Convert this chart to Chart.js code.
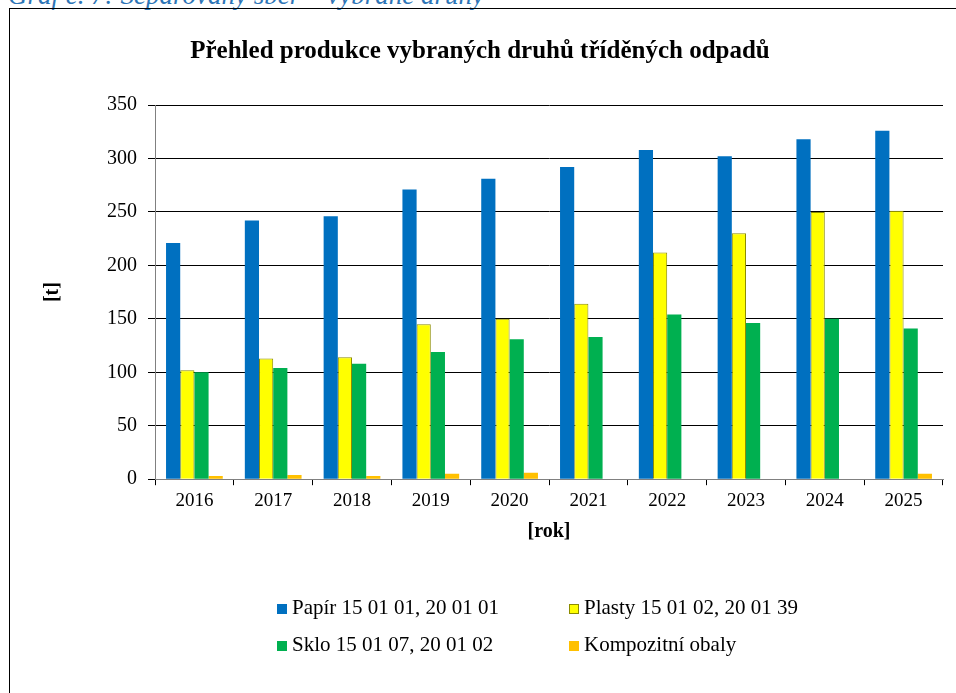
<!DOCTYPE html>
<html>
<head>
<meta charset="utf-8">
<script src="https://cdn.jsdelivr.net/npm/chart.js@4"></script>
<style>
  html, body { margin: 0; padding: 0; background: #fff; }
  body { width: 956px; height: 693px; position: relative; overflow: hidden; font-family: "Liberation Serif", serif; }
  #caption { position: absolute; left: 8px; top: -20px; font-size: 27px; font-style: italic; color: #2E75B6; white-space: nowrap; }
  #frame { position: absolute; left: 9px; top: 8px; width: 960px; height: 700px; border: 1px solid #000; box-sizing: border-box; }
  #wrap { position: absolute; left: 0; top: 0; width: 956px; height: 693px; }
  #legend { position: absolute; left: 277px; top: 595px; width: 600px; font-size: 21px; color: #000; }
  .li { position: absolute; white-space: nowrap; }
  .box { position: absolute; width: 10px; height: 10px; top: 9px; left: 0; box-sizing: border-box; }
  .lt { position: absolute; left: 15px; top: 0; }
</style>
</head>
<body>
<div id="caption">Graf č. 7: Separovaný sběr – vybrané druhy</div>
<div id="frame"></div>
<div id="wrap"><canvas id="c" width="956" height="693"></canvas></div>
<div id="legend"></div>
<script>
const years = ['2016','2017','2018','2019','2020','2021','2022','2023','2024','2025'];
const papir = [221, 242, 246, 271, 281, 292, 308, 302, 318, 326];
const plasty = [102, 113, 114, 145, 150, 164, 212, 230, 250, 251];
const sklo = [100, 104, 108, 119, 131, 133, 154, 146, 150, 141];
const kompozit = [3, 4, 3, 5, 6, 0, 0, 0, 0, 5];
const seriesNames = ['Papír 15 01 01, 20 01 01', 'Plasty 15 01 02, 20 01 39', 'Sklo 15 01 07, 20 01 02', 'Kompozitní obaly'];
const titleText = 'Přehled produkce vybraných druhů tříděných odpadů';
const xTitle = '[rok]';
const yTitle = '[t]';

const fills = ['#0070C0', '#FFFF00', '#00B050', '#FFC000'];
const borders = ['#0070C0', '#8C8C00', '#00B050', '#FFC000'];
const values = [papir, plasty, sklo, kompozit];

const datasets = seriesNames.map((n, i) => ({
  label: n,
  data: values[i],
  backgroundColor: fills[i],
  borderColor: borders[i],
  borderWidth: i === 1 ? 1 : 0,
  barPercentage: 1.0,
  categoryPercentage: 0.72
}));

Chart.defaults.font.family = '"Liberation Serif", "Times New Roman", serif';
Chart.defaults.color = '#000';

new Chart(document.getElementById('c'), {
  type: 'bar',
  data: { labels: years, datasets },
  options: {
    responsive: false,
    animation: false,
    devicePixelRatio: 1,
    layout: { padding: { left: 17, right: 13, top: 0, bottom: 146 } },
    plugins: {
      legend: { display: false },
      tooltip: { enabled: false },
      title: {
        display: true,
        text: titleText,
        font: { size: 25, weight: 'bold' },
        color: '#000',
        padding: { top: 37, bottom: 38 }
      }
    },
    scales: {
      x: {
        grid: { display: true, drawOnChartArea: false, drawTicks: true, tickLength: 6, color: '#000', offset: true },
        border: { display: true, color: '#808080', width: 1 },
        ticks: { font: { size: 19 }, padding: 4, color: '#000', maxRotation: 0 },
        title: { display: true, text: xTitle, font: { size: 20, weight: 'bold' }, color: '#000', padding: { top: 4, bottom: 3 } }
      },
      y: {
        min: 0, max: 350,
        afterFit: (s) => { s.width = 155 - 17; },
        grid: { color: '#000', lineWidth: 1, drawTicks: true, tickLength: 7 },
        border: { display: true, color: '#808080', width: 1 },
        ticks: { stepSize: 50, font: { size: 20 }, padding: 11, color: '#000' },
        title: { display: true, text: yTitle, font: { size: 20, weight: 'bold' }, color: '#000', padding: { top: 24, bottom: 0 } }
      }
    }
  }
});

const leg = document.getElementById('legend');
const pos = [[0, 0], [292, 0], [0, 37], [292, 37]];
seriesNames.forEach((n, i) => {
  const d = document.createElement('div');
  d.className = 'li';
  d.style.left = pos[i][0] + 'px';
  d.style.top = pos[i][1] + 'px';
  const b = document.createElement('span');
  b.className = 'box';
  b.style.background = fills[i];
  if (i === 1) b.style.border = '1px solid ' + borders[i];
  const t = document.createElement('span');
  t.className = 'lt';
  t.textContent = n;
  d.appendChild(b); d.appendChild(t);
  leg.appendChild(d);
});
</script>
</body>
</html>
